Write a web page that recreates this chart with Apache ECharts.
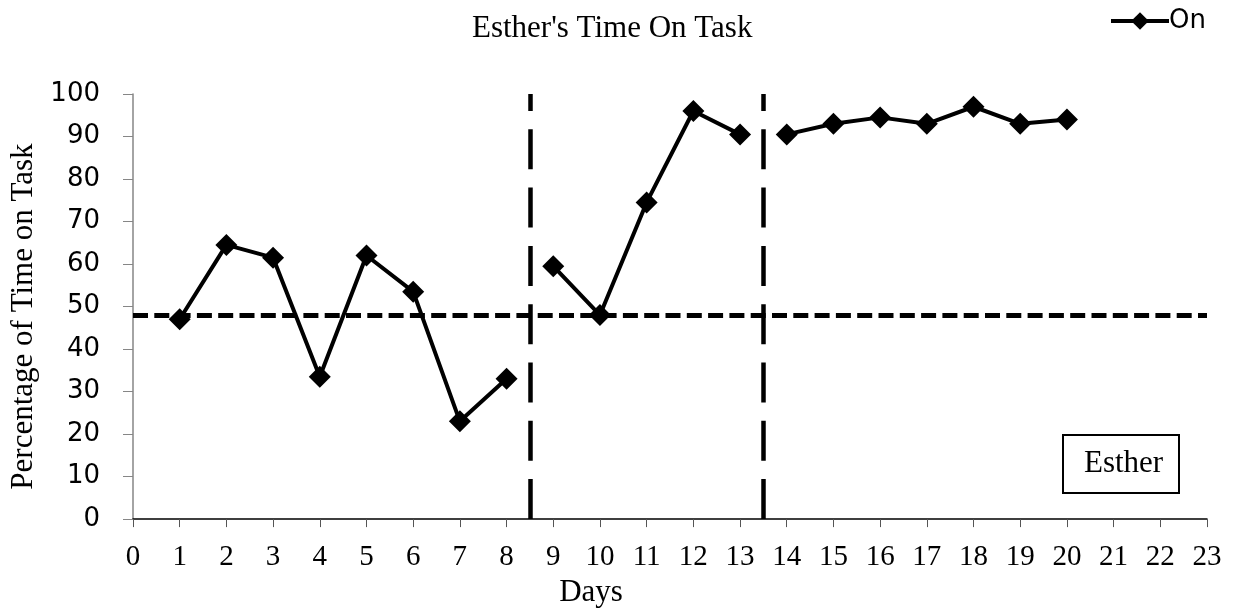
<!DOCTYPE html>
<html>
<head>
<meta charset="utf-8">
<style>
  html, body { margin: 0; padding: 0; background: #fff; }
  #main { width: 1240px; height: 613px; }
</style>
<script src="https://cdn.jsdelivr.net/npm/echarts@6/dist/echarts.min.js"></script>
</head>
<body>
<div id="main"></div>
<script>
// values
const baselineDays = [1, 2, 3, 4, 5, 6, 7, 8]
const baselineOn = [47, 64.5, 61.5, 33.5, 62, 53.5, 23, 33]
const interventionDays = [9, 10, 11, 12, 13]
const interventionOn = [59.5, 48, 74.5, 96, 90.5]
const maintenanceDays = [14, 15, 16, 17, 18, 19, 20]
const maintenanceOn = [90.5, 93, 94.5, 93, 97, 93, 94]
const phaseChanges = [8.5, 13.5]
const baselineMean = 48

const serif = 'Liberation Serif'
const sans = 'DejaVu Sans'

const pairs = (xs, ys) => xs.map((x, i) => [x, ys[i]])

const phaseLine = {
  symbol: 'none',
  silent: true,
  label: { show: false },
  data: [
    ...phaseChanges.map(x => ({
      xAxis: x,
      lineStyle: { color: '#000', width: 4.5, type: [40, 18.3] }
    })),
    {
      yAxis: baselineMean,
      lineStyle: { color: '#000', width: 5, type: [15, 6.3] }
    }
  ]
}

const makeSeries = (data, withLines) => ({
  name: 'On',
  type: 'line',
  data,
  symbol: 'diamond',
  symbolSize: 22,
  itemStyle: { color: '#000' },
  lineStyle: { color: '#000', width: 4 },
  markLine: withLines ? phaseLine : undefined,
  z: 3
})

const option = {
  animation: false,
  backgroundColor: '#fff',
  title: {
    text: "Esther's Time On Task",
    left: 467,
    top: 8,
    textStyle: { fontFamily: serif, fontSize: 31, fontWeight: 'normal', color: '#000' }
  },
  legend: {
    data: ['On'],
    left: 1104,
    top: 3,
    itemWidth: 58,
    itemHeight: 22,
    itemGap: 4,
    lineStyle: { width: 4, color: '#000' },
    textStyle: { fontFamily: sans, fontSize: 26, color: '#000', padding: [0, 0, 0, -5] }
  },
  grid: { left: 133, right: 33, top: 94, bottom: 91 },
  xAxis: {
    type: 'value',
    min: 0,
    max: 23,
    interval: 1,
    name: 'Days',
    nameLocation: 'middle',
    nameGap: 55,
    nameTextStyle: { fontFamily: serif, fontSize: 31, color: '#000', padding: [0, 158, 0, 0] },
    axisLine: { lineStyle: { color: '#000', width: 1.5 } },
    axisTick: { inside: false, length: 8, lineStyle: { color: '#555' } },
    axisLabel: { fontFamily: serif, fontSize: 29, color: '#000', margin: 24 },
    splitLine: { show: false }
  },
  yAxis: {
    type: 'value',
    min: 0,
    max: 100,
    interval: 10,
    name: 'Percentage of Time on Task',
    nameLocation: 'middle',
    nameGap: 86,
    nameTextStyle: { fontFamily: serif, fontSize: 31, color: '#000', padding: [0, 20, 0, 0] },
    axisLine: { show: true, lineStyle: { color: '#868686', width: 1.5 } },
    axisTick: { show: true, inside: false, length: 10, lineStyle: { color: '#868686' } },
    axisLabel: { fontFamily: sans, fontSize: 26, color: '#000', margin: 33 },
    splitLine: { show: false }
  },
  graphic: [
    {
      type: 'group',
      left: 1062,
      top: 434,
      children: [
        {
          type: 'rect',
          shape: { x: 0, y: 0, width: 116, height: 58 },
          style: { fill: '#fff', stroke: '#000', lineWidth: 2 }
        },
        {
          type: 'text',
          x: 21,
          y: 29,
          style: {
            text: 'Esther',
            font: '31px "Liberation Serif"',
            fill: '#000',
            verticalAlign: 'middle'
          }
        }
      ]
    }
  ],
  series: [
    makeSeries(pairs(baselineDays, baselineOn), true),
    makeSeries(pairs(interventionDays, interventionOn), false),
    makeSeries(pairs(maintenanceDays, maintenanceOn), false)
  ]
}

const chart = echarts.init(document.getElementById('main'))
chart.setOption(option)
</script>
</body>
</html>
